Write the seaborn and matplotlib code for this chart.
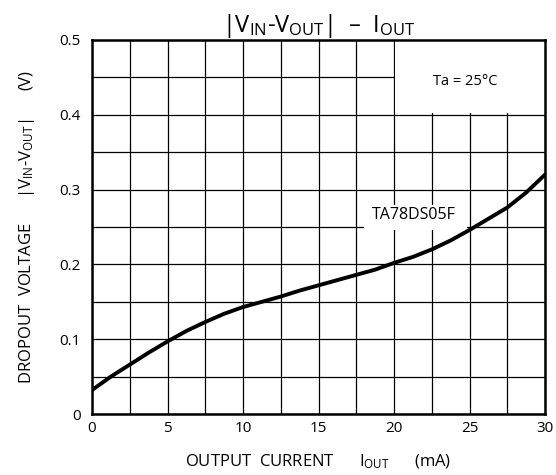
import matplotlib
matplotlib.use("Agg")
import matplotlib.pyplot as plt
from matplotlib.patches import Rectangle
import seaborn as sns
import pandas as pd
import numpy as np

# Data
iout_ma = [0, 1.25, 2.5, 3.75, 5, 6.25, 7.5, 8.75, 10, 11.25, 12.5, 13.75, 15,
           16.25, 17.5, 18.75, 20, 21.25, 22.5, 23.75, 25, 26.25, 27.5, 28.75, 30]
dropout_v = [0.032, 0.050, 0.066, 0.082, 0.097, 0.111, 0.123, 0.134, 0.143, 0.150,
             0.157, 0.165, 0.172, 0.179, 0.186, 0.193, 0.202, 0.210, 0.220, 0.232,
             0.246, 0.261, 0.276, 0.296, 0.320]
x_ticks = [0, 5, 10, 15, 20, 25, 30]
y_ticks = [0, 0.1, 0.2, 0.3, 0.4, 0.5]
y_tick_labels = ["0", "0.1", "0.2", "0.3", "0.4", "0.5"]
series_label = "TA78DS05F"
condition_label = "Ta = 25°C"

sns.set_theme(style="white")
plt.rcParams['font.family'] = ['Open Sans', 'DejaVu Sans']
plt.rcParams['mathtext.fontset'] = 'custom'
plt.rcParams['mathtext.rm'] = 'Open Sans'
plt.rcParams['mathtext.it'] = 'Open Sans'
plt.rcParams['text.color'] = 'black'
plt.rcParams['axes.labelcolor'] = 'black'
plt.rcParams['lines.solid_joinstyle'] = 'round'

df = pd.DataFrame({"I": iout_ma, "V": dropout_v})

fig = plt.figure(figsize=(5.56, 4.75), dpi=100)
ax = fig.add_axes([92/556, 1-414/475, (545-92)/556, (414-40)/475])

sns.lineplot(data=df, x="I", y="V", ax=ax, color="black", linewidth=2.8, zorder=4)

ax.set_xlim(0, 30)
ax.set_ylim(0, 0.5)
ax.set_xticks(x_ticks)
ax.set_yticks(y_ticks)
ax.set_yticklabels(y_tick_labels)
ax.set_xticks(np.arange(0, 30.01, 2.5), minor=True)
ax.set_yticks(np.arange(0, 0.501, 0.05), minor=True)
ax.tick_params(which="both", length=0, labelsize=11, colors="black")
ax.tick_params(axis="x", pad=5)
ax.tick_params(axis="y", pad=8)

ax.set_axisbelow(True)
ax.grid(which="both", color="black", linewidth=0.9)
# very faint 0.15 gridline as in the reference
for t in ax.yaxis.get_minor_ticks():
    if abs(t.get_loc() - 0.15) < 1e-6:
        t.gridline.set_color("#ececec")

for s in ax.spines.values():
    s.set_visible(True)
    s.set_color("black")
    s.set_linewidth(1.8)

# white boxes masking grid behind labels
ax.add_patch(Rectangle((20.08, 0.4025), 9.92, 0.0975, facecolor="white",
                       edgecolor="none", zorder=1))
ax.add_patch(Rectangle((18.0, 0.246), 6.85, 0.034, facecolor="white",
                       edgecolor="none", zorder=1))

ax.text(24.7, 0.445, condition_label, ha="center", va="center", fontsize=10.5, zorder=5)
ax.text(21.3, 0.266, series_label, ha="center", va="center", fontsize=11.5, zorder=5)

ax.set_xlabel(r"OUTPUT  CURRENT      $\mathrm{I_{OUT}}$      (mA)", fontsize=12, labelpad=12)
ax.set_ylabel(r"DROPOUT  VOLTAGE      $|\mathrm{V_{IN}}$-$\mathrm{V_{OUT}}|$      (V)",
              fontsize=12, labelpad=16)
ax.set_title(r"$|\mathrm{V_{IN}}$-$\mathrm{V_{OUT}}|$  –  $\mathrm{I_{OUT}}$",
             fontsize=17, pad=6)

fig.savefig("out.png", dpi=100, facecolor="white")
